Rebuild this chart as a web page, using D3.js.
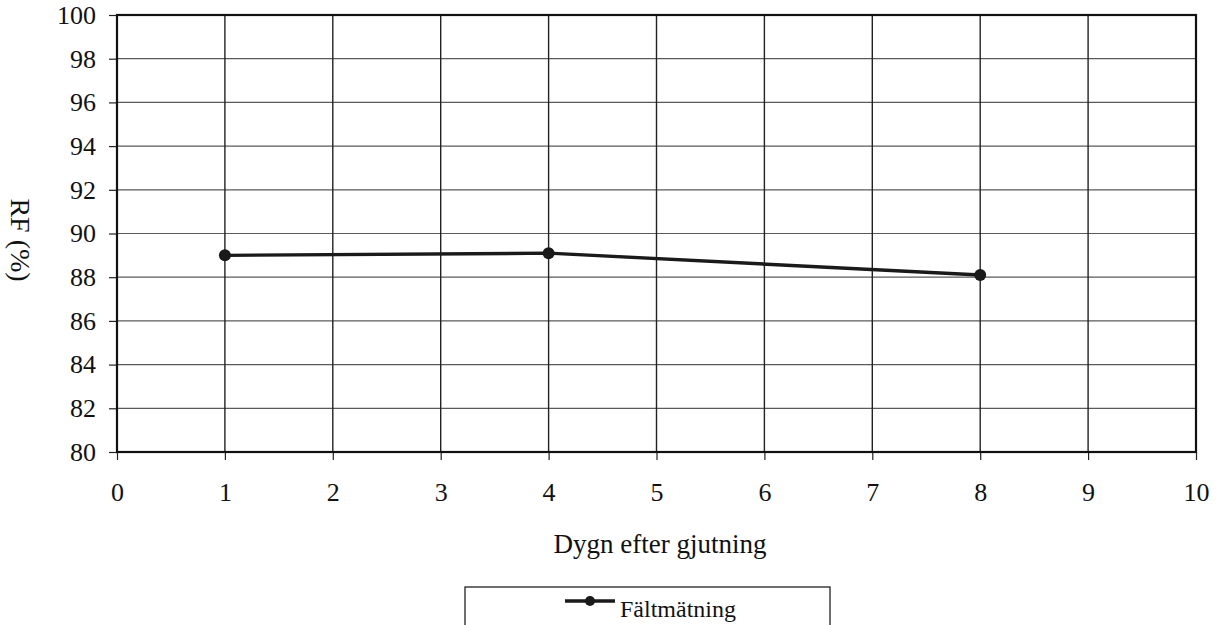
<!DOCTYPE html>
<html>
<head>
<meta charset="utf-8">
<script src="https://cdn.jsdelivr.net/npm/d3@7"></script>
<style>
  html, body { margin: 0; padding: 0; background: #fff; }
  svg { display: block; font-family: "Liberation Serif", "Times New Roman", "DejaVu Serif", serif; }
  svg text { font-family: "Liberation Serif", "Times New Roman", "DejaVu Serif", serif !important; fill: #111; }
</style>
</head>
<body>
<svg id="chart" width="1220" height="625"></svg>
<script>
// Data
const days = [1, 4, 8];
const rfValues = [89.0, 89.1, 88.1];
const seriesName = "Fältmätning";
const xTicks = [0, 1, 2, 3, 4, 5, 6, 7, 8, 9, 10];
const yTicks = [80, 82, 84, 86, 88, 90, 92, 94, 96, 98, 100];
const xTitle = "Dygn efter gjutning";
const yTitle = "RF (%)";

const FONT = '"Liberation Serif", "Times New Roman", serif';
const plot = { left: 117, right: 1196, top: 15, bottom: 452 };

const svg = d3.select("#chart");
const x = d3.scaleLinear().domain([0, 10]).range([plot.left, plot.right]);
const y = d3.scaleLinear().domain([80, 100]).range([plot.bottom, plot.top]);

// horizontal grid
svg.append("g").selectAll("line").data(yTicks).join("line")
  .attr("x1", plot.left).attr("x2", plot.right)
  .attr("y1", d => y(d)).attr("y2", d => y(d))
  .attr("stroke", "#5a5a5a").attr("stroke-width", 1.2);

// vertical grid
svg.append("g").selectAll("line").data(xTicks).join("line")
  .attr("x1", d => x(d)).attr("x2", d => x(d))
  .attr("y1", plot.top).attr("y2", plot.bottom)
  .attr("stroke", "#222").attr("stroke-width", 1.4);

// axes
const xAxis = d3.axisBottom(x).tickValues(xTicks).tickSize(8).tickPadding(23).tickFormat(d3.format("d"));
const yAxis = d3.axisLeft(y).tickValues(yTicks).tickSize(8).tickPadding(13).tickFormat(d3.format("d"));

const gx = svg.append("g").attr("transform", `translate(0,${plot.bottom})`).call(xAxis);
const gy = svg.append("g").attr("transform", `translate(${plot.left},0)`).call(yAxis);
[gx, gy].forEach(g => {
  g.attr("font-family", FONT).attr("font-size", 26);
  g.select(".domain").remove();
  g.selectAll(".tick line").attr("stroke", "#222").attr("stroke-width", 1.2);
  g.selectAll(".tick text").attr("font-family", FONT).attr("font-size", 26).attr("fill", "#111");
});

// plot frame
svg.append("rect")
  .attr("x", plot.left).attr("y", plot.top)
  .attr("width", plot.right - plot.left).attr("height", plot.bottom - plot.top)
  .attr("fill", "none").attr("stroke", "#111").attr("stroke-width", 2.2);

// series
const pts = days.map((d, i) => [d, rfValues[i]]);
svg.append("path").datum(pts)
  .attr("fill", "none").attr("stroke", "#1a1a1a").attr("stroke-width", 3.4)
  .attr("d", d3.line().x(d => x(d[0])).y(d => y(d[1])));
svg.append("g").selectAll("circle").data(pts).join("circle")
  .attr("cx", d => x(d[0])).attr("cy", d => y(d[1])).attr("r", 6)
  .attr("fill", "#1a1a1a");

// titles
svg.append("text").attr("x", 660).attr("y", 553).attr("text-anchor", "middle")
  .attr("font-family", FONT).attr("font-size", 27).text(xTitle);
svg.append("text").attr("transform", "translate(11,240) rotate(90)").attr("text-anchor", "middle")
  .attr("font-family", FONT).attr("font-size", 28).text(yTitle);

// legend
const lg = svg.append("g");
lg.append("rect").attr("x", 465).attr("y", 587).attr("width", 365).attr("height", 50)
  .attr("fill", "#fff").attr("stroke", "#222").attr("stroke-width", 1.3);
lg.append("line").attr("x1", 565).attr("x2", 615).attr("y1", 601).attr("y2", 601)
  .attr("stroke", "#1a1a1a").attr("stroke-width", 3.4);
lg.append("circle").attr("cx", 590).attr("cy", 601).attr("r", 5).attr("fill", "#1a1a1a");
lg.append("text").attr("x", 620).attr("y", 617)
  .attr("font-family", FONT).attr("font-size", 24).text(seriesName);
</script>
</body>
</html>
